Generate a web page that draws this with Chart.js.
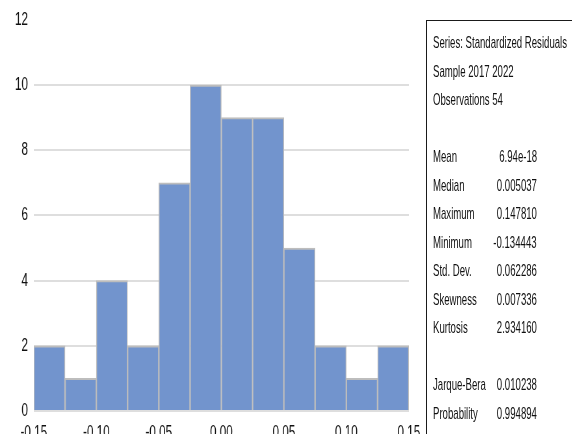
<!DOCTYPE html>
<html>
<head>
<meta charset="utf-8">
<script src="https://cdn.jsdelivr.net/npm/chart.js@4.4.0/dist/chart.umd.min.js"></script>
<style>
    html, body { margin: 0; padding: 0; width: 572px; height: 434px; overflow: hidden; background: #fff; }
    /* the reference is horizontally squeezed, so the chart is drawn wide and squeezed too */
    #wrap { position: absolute; left: 0; top: 0; width: 657px; height: 450px; transform: scaleX(0.65); transform-origin: 0 0; }
    #stats { position: absolute; left: 426px; top: 20px; width: 170px; height: 440px; border: 1px solid #1a1a1a; box-sizing: border-box; }
    .t { position: absolute; font-family: "Liberation Sans", Arial, sans-serif; font-size: 17px; line-height: 20px; color: #111; white-space: nowrap; transform: scaleX(0.565); }
    .lbl { left: 433px; transform-origin: 0 50%; }
    .val { right: 35px; transform-origin: 100% 50%; }
</style>
</head>
<body>
<div id="wrap"><canvas id="hist" width="657" height="450"></canvas></div>
<div id="stats"></div>
<div id="texts"></div>
<script>
// Dados do histograma
const binCenters = [-0.1375, -0.1125, -0.0875, -0.0625, -0.0375, -0.0125, 0.0125, 0.0375, 0.0625, 0.0875, 0.1125, 0.1375];
const counts = [2, 1, 4, 2, 7, 10, 9, 9, 5, 2, 1, 2];
const xTicks = [-0.15, -0.10, -0.05, 0.00, 0.05, 0.10, 0.15];
const yTicks = [0, 2, 4, 6, 8, 10, 12];

// Quadro de estatisticas
const headerLines = ['Series: Standardized Residuals', 'Sample 2017 2022', 'Observations 54'];
const statNames = ['Mean', 'Median', 'Maximum', 'Minimum', 'Std. Dev.', 'Skewness', 'Kurtosis'];
const statValues = ['6.94e-18', '0.005037', '0.147810', '-0.134443', '0.062286', '0.007336', '2.934160'];
const testNames = ['Jarque-Bera', 'Probability'];
const testValues = ['0.010238', '0.994894'];

const tickFont = { family: '"Liberation Sans", Arial, sans-serif', size: 18 };
const tickColor = '#111';

const ctx = document.getElementById('hist').getContext('2d');
new Chart(ctx, {
    type: 'bar',
    data: {
        datasets: [{
            data: binCenters.map((x, i) => ({ x: x, y: counts[i] })),
            backgroundColor: '#7294cd',
            borderColor: '#bdbdbd',
            borderWidth: { top: 2, left: 1.5, right: 1.5, bottom: 0 },
            barPercentage: 1,
            categoryPercentage: 1
        }]
    },
    options: {
        responsive: false,
        animation: false,
        layout: { padding: { top: 10, right: 28, left: 0, bottom: 0 } },
        plugins: { legend: { display: false }, tooltip: { enabled: false } },
        scales: {
            x: {
                type: 'linear',
                min: -0.15,
                max: 0.15,
                offset: false,
                grid: { display: false },
                border: { display: false },
                afterBuildTicks: s => { s.ticks = xTicks.map(v => ({ value: v })); },
                afterFit: s => { s.height = 39; },
                ticks: {
                    padding: 3,
                    font: tickFont,
                    color: tickColor,
                    maxRotation: 0,
                    autoSkip: false,
                    callback: v => Math.abs(v) < 1e-9 ? '0.00' : v.toFixed(2)
                }
            },
            y: {
                min: 0,
                max: 12,
                afterBuildTicks: s => { s.ticks = yTicks.map(v => ({ value: v })); },
                afterFit: s => { s.width = 52; },
                grid: {
                    drawTicks: false,
                    lineWidth: 2,
                    color: c => c.tick && c.tick.value === 12 ? 'rgba(0,0,0,0)' : '#dedede'
                },
                border: { display: false },
                ticks: { padding: 9, font: tickFont, color: tickColor }
            }
        }
    }
});

// Linhas de texto do quadro
const texts = document.getElementById('texts');
function addText(txt, cls, row) {
    const el = document.createElement('div');
    el.className = 't ' + cls;
    el.style.top = (43 + row * 28.5 - 10) + 'px';
    el.textContent = txt;
    texts.appendChild(el);
}
headerLines.forEach((t, i) => addText(t, 'lbl', i));
statNames.forEach((t, i) => { addText(t, 'lbl', 4 + i); addText(statValues[i], 'val', 4 + i); });
testNames.forEach((t, i) => { addText(t, 'lbl', 12 + i); addText(testValues[i], 'val', 12 + i); });
</script>
</body>
</html>
